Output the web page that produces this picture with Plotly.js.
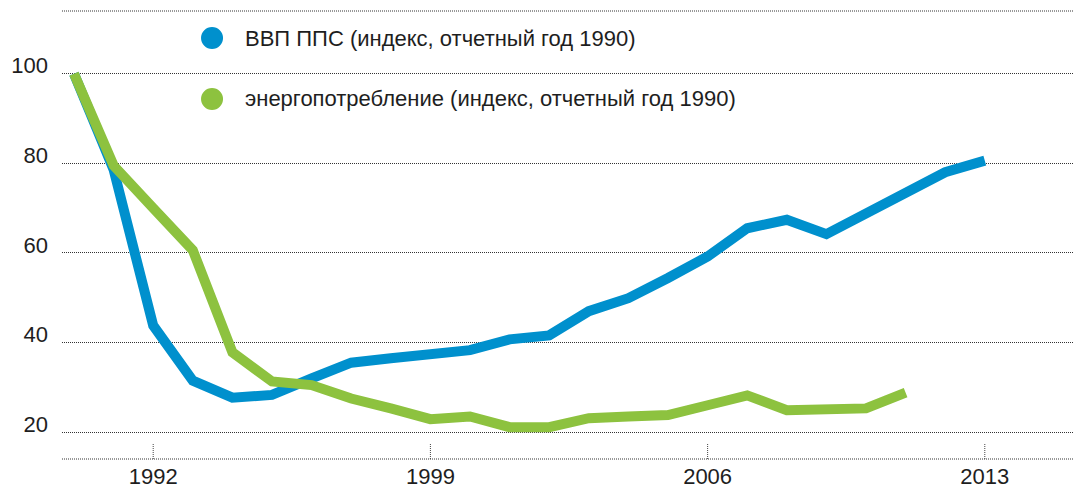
<!DOCTYPE html>
<html>
<head>
<meta charset="utf-8">
<script src="https://cdn.plot.ly/plotly-3.0.1.min.js"></script>
<style>
html,body{margin:0;padding:0;background:#fff;}
#chart{width:1073px;height:488px;}
</style>
</head>
<body>
<div id="chart"></div>
<script>
// ---- data ----
const gdpYears = [1990,1991,1992,1993,1994,1995,1996,1997,1998,1999,2000,2001,2002,2003,2004,2005,2006,2007,2008,2009,2010,2011,2012,2013];
const gdpValues = [100,78.6,43.8,31.5,27.7,28.3,32,35.5,36.5,37.4,38.3,40.7,41.6,47,49.9,54.4,59.2,65.5,67.4,64.2,68.7,73.4,78,80.6];
const energyYears = [1990,1991,1992,1993,1994,1995,1996,1997,1998,1999,2000,2001,2002,2003,2004,2005,2006,2007,2008,2009,2010,2011];
const energyValues = [100,79.5,70,60.6,37.8,31.3,30.5,27.5,25.3,22.9,23.5,21.1,21.1,23.1,23.5,23.8,26,28.2,24.9,25.1,25.3,28.8];
const seriesNames = ["ВВП ППС (индекс, отчетный год 1990)", "энергопотребление (индекс, отчетный год 1990)"];
const seriesColors = ["#0090CD", "#8DC23F"];
const xTickVals = [1992, 1999, 2006, 2013];
const xTickText = ["1992", "1999", "2006", "2013"];
const yTickVals = [20, 40, 60, 80, 100];
const yTickText = ["20", "40", "60", "80", "100"];

const FONT = "Liberation Sans, Arial, Helvetica, sans-serif";
const TXT = "#1e1e1e";

const traces = [
  {x: gdpYears, y: gdpValues, name: seriesNames[0], type: "scatter", mode: "lines",
   line: {color: seriesColors[0], width: 10, shape: "linear"}, showlegend: false, hoverinfo: "skip"},
  {x: energyYears, y: energyValues, name: seriesNames[1], type: "scatter", mode: "lines",
   line: {color: seriesColors[1], width: 10, shape: "linear"}, showlegend: false, hoverinfo: "skip"}
];

const shapes = [];
// dotted frame lines (top and bottom)
[0, 1].forEach(function (py) {
  shapes.push({type: "line", xref: "paper", yref: "paper", x0: 0, x1: 1, y0: py, y1: py,
    line: {color: "#333", width: 1, dash: "1px,1px"}, layer: "below"});
});
// dotted x tick marks
xTickVals.forEach(function (v) {
  shapes.push({type: "line", xref: "x", yref: "paper", x0: v, x1: v, y0: 0, y1: 15 / 448,
    line: {color: "#444", width: 1, dash: "1px,1px"}, layer: "below"});
});
// legend markers
const legendY = [0.9397, 0.8036];
const annotations = [];
seriesNames.forEach(function (n, i) {
  shapes.push({type: "circle", xref: "paper", yref: "paper", xsizemode: "pixel", ysizemode: "pixel",
    xanchor: 0.1484, yanchor: legendY[i], x0: -11, x1: 11, y0: -11, y1: 11,
    fillcolor: seriesColors[i], line: {width: 0}});
  annotations.push({xref: "paper", yref: "paper", x: 0.179, y: legendY[i], xanchor: "left", yanchor: "middle",
    text: n, showarrow: false, font: {family: FONT, size: 22, color: TXT}});
});

const layout = {
  width: 1073, height: 488,
  margin: {l: 62, r: 0, t: 11, b: 29},
  paper_bgcolor: "#fff", plot_bgcolor: "#fff",
  showlegend: false,
  font: {family: FONT, size: 22, color: TXT},
  xaxis: {
    range: [1989.697, 2015.227], tickmode: "array", tickvals: xTickVals, ticktext: xTickText,
    showgrid: false, zeroline: false, showline: false, ticks: "",
    tickfont: {family: FONT, size: 22, color: TXT}, ticklabelstandoff: 2
  },
  yaxis: {
    range: [14, 114], tickmode: "array", tickvals: yTickVals, ticktext: yTickText,
    showgrid: true, gridcolor: "#333", gridwidth: 1, griddash: "1px,1px",
    zeroline: false, showline: false, ticks: "",
    tickfont: {family: FONT, size: 22, color: TXT}, ticklabelshift: -8, ticklabelstandoff: 13
  },
  shapes: shapes,
  annotations: annotations
};

Plotly.newPlot("chart", traces, layout, {displayModeBar: false, staticPlot: true});
</script>
</body>
</html>
